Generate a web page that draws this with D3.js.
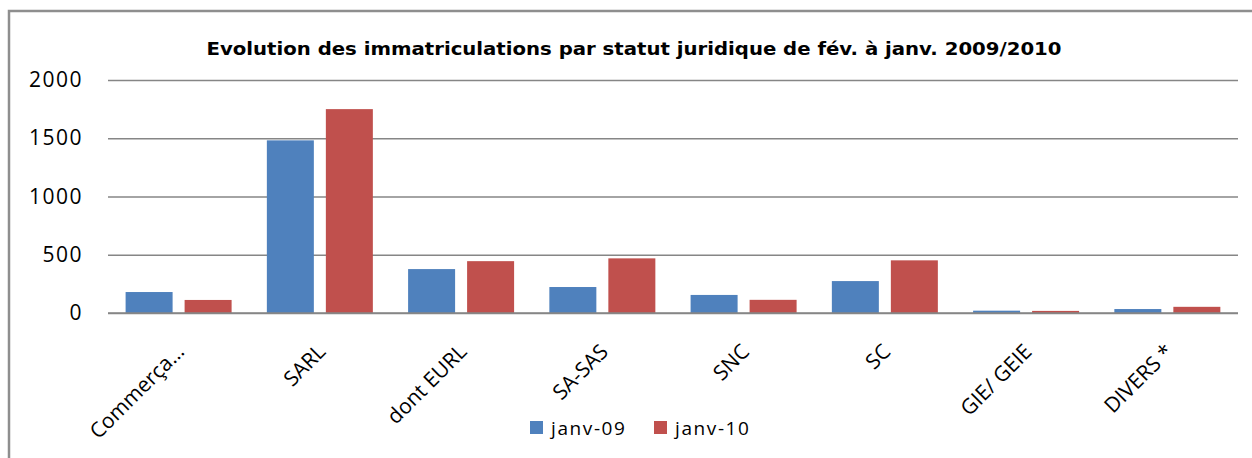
<!DOCTYPE html>
<html>
<head>
<meta charset="utf-8">
<script src="https://cdn.jsdelivr.net/npm/d3@7"></script>
<style>
  body { margin: 0; background: #fff; }
  svg { display: block; }
</style>
</head>
<body>
<div class="graph"></div>
<script>
let categories = ['Commerça…', 'SARL', 'dont EURL', 'SA-SAS', 'SNC', 'SC', 'GIE/ GEIE', 'DIVERS *']
let seriesNames = ['janv-09', 'janv-10']
let janv09 = [180, 1482, 377, 223, 155, 274, 20, 34]
let janv10 = [112, 1750, 445, 469, 113, 452, 18, 53]
let yTicks = [0, 500, 1000, 1500, 2000]

let colors = ['#4f81bd', '#c0504d']

let width = 1252,
    height = 458

let plotLeft = 108, plotRight = 1238,
    plotTop = 80, plotBottom = 313

let x = d3.scaleBand().domain(categories).range([plotLeft, plotRight]).padding(0)
let x1 = d3.scaleBand().domain(seriesNames)
    .range([17.6, 17.6 + 106]).paddingInner(12 / 59).paddingOuter(0)
let y = d3.scaleLinear().domain([0, 2000]).range([plotBottom, plotTop])

let svg = d3.select('.graph').append('svg')
    .attr('width', width)
    .attr('height', height)

// outer frame (right/bottom edges fall outside the picture)
svg.append('rect')
    .attr('x', 9).attr('y', 11)
    .attr('width', 1400).attr('height', 600)
    .attr('fill', 'none')
    .attr('stroke', '#8e8e8e')
    .attr('stroke-width', 2.5)

svg.append('text')
    .attr('x', 634).attr('y', 55)
    .attr('text-anchor', 'middle')
    .attr('textLength', 855)
    .attr('lengthAdjust', 'spacingAndGlyphs')
    .style('font-family', 'DejaVu Sans')
    .style('font-weight', 'bold')
    .style('font-size', '17px')
    .text('Evolution des immatriculations par statut juridique de fév. à janv. 2009/2010')

// gridlines
let grid = svg.append('g')
    .attr('transform', 'translate(' + plotLeft + ',0)')
    .call(d3.axisLeft(y).tickValues(yTicks).tickSize(-(plotRight - plotLeft)).tickFormat(''))
grid.select('.domain').remove()
grid.selectAll('line').attr('stroke', '#868686').attr('stroke-width', 1.5)

// y labels
let yAxis = svg.append('g')
    .attr('transform', 'translate(' + plotLeft + ',0)')
    .call(d3.axisLeft(y).tickValues(yTicks).tickSize(0).tickPadding(25).tickFormat(d3.format('d')))
yAxis.select('.domain').remove()
yAxis.selectAll('text')
    .style('font-family', 'Open Sans')
    .style('font-size', '21px')
    .style('letter-spacing', '1.5px')
    .attr('fill', '#000')

// bars
let data = categories.map(function(c, i) {
    return { cat: c, values: [janv09[i], janv10[i]] }
})

let groups = svg.append('g').selectAll('g')
    .data(data)
    .join('g')
    .attr('transform', function(d) { return 'translate(' + x(d.cat) + ',0)' })

groups.selectAll('rect')
    .data(function(d) {
        return d.values.map(function(v, j) { return { name: seriesNames[j], value: v, j: j } })
    })
    .join('rect')
    .attr('x', function(d) { return x1(d.name) })
    .attr('width', x1.bandwidth())
    .attr('y', function(d) { return y(d.value) })
    .attr('height', function(d) { return plotBottom - y(d.value) })
    .attr('fill', function(d) { return colors[d.j] })

// baseline
svg.append('line')
    .attr('x1', plotLeft).attr('x2', plotRight)
    .attr('y1', y(0)).attr('y2', y(0))
    .attr('stroke', '#868686').attr('stroke-width', 1.5)

// x labels
let xAxis = svg.append('g')
    .attr('transform', 'translate(0,' + plotBottom + ')')
    .call(d3.axisBottom(x).tickSize(0).tickPadding(0))
xAxis.select('.domain').remove()
xAxis.selectAll('text')
    .attr('y', 0).attr('dy', 0)
    .attr('text-anchor', 'end')
    .attr('transform', 'translate(7,40) rotate(-45)')
    .style('font-family', 'Open Sans')
    .style('font-size', '21px')
    .attr('fill', '#000')

// legend
let legendX = [530, 654]
let legend = svg.append('g').selectAll('g')
    .data(seriesNames)
    .join('g')
    .attr('transform', function(d, i) { return 'translate(' + legendX[i] + ',421)' })

legend.append('rect')
    .attr('width', 13).attr('height', 13)
    .attr('fill', function(d, i) { return colors[i] })

legend.append('text')
    .attr('x', 21).attr('y', 14)
    .style('font-family', 'Open Sans')
    .style('font-size', '19px')
    .style('letter-spacing', '1.6px')
    .text(function(d) { return d })
</script>
</body>
</html>
